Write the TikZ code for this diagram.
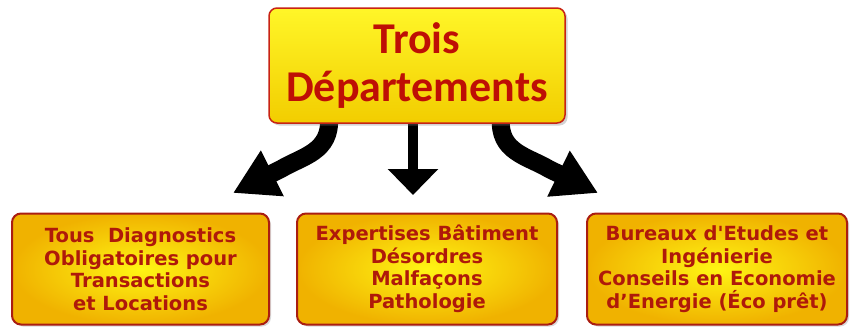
\documentclass[tikz,border=0pt]{standalone}
\usepackage{fontspec}
\newfontfamily\titlefont{Carlito}
\newfontfamily\boxfont{DejaVu Sans}
\usetikzlibrary{arrows.meta,shadows,backgrounds}
\definecolor{txtred}{RGB}{190,15,5}
\definecolor{boxtxt}{RGB}{175,25,10}
\definecolor{bordred}{RGB}{200,35,20}
\definecolor{ytop}{RGB}{255,246,40}
\definecolor{ybot}{RGB}{242,205,0}
\definecolor{yin}{RGB}{255,245,20}
\definecolor{yout}{RGB}{240,178,0}
\tikzset{
  titlebox/.style={draw=bordred, line width=1.5pt, rounded corners=8pt,
    top color=ytop, bottom color=ybot, inner sep=0pt, align=center,
    text=txtred, font=\titlefont\bfseries\fontsize{44}{46}\selectfont,
    drop shadow={opacity=0.35, shadow xshift=2.5pt, shadow yshift=-2.5pt}},
  depbox/.style={draw=bordred!85!black, line width=2pt, rounded corners=9pt,
    inner color=yin, outer color=yout, inner sep=0pt, align=center,
    text=boxtxt, font=\boxfont\bfseries\fontsize{19.5}{22.5}\selectfont,
    minimum height=111pt,
    drop shadow={opacity=0.3, shadow xshift=2pt, shadow yshift=-2pt}},
  bigarrow/.style={line width=18pt, draw=black, line cap=butt,
    -{Triangle[length=44pt,width=48pt]}},
  midarrow/.style={line width=10pt, draw=black,
    -{Triangle[length=26pt,width=49pt]}}
}
\begin{document}
\begin{tikzpicture}[x=1pt,y=-1pt]
\useasboundingbox (0,0) rectangle (852,327);
\node[titlebox, minimum width=296pt, minimum height=115pt] (top) at (417,65.5) {\raisebox{2pt}{Trois}\\Départements};
\coordinate (ls) at ([xshift=-88pt,yshift=6pt]top.south);
\coordinate (ms) at ([xshift=-4pt,yshift=6pt]top.south);
\coordinate (rs) at ([xshift=84pt,yshift=6pt]top.south);
\coordinate (lt) at (233,193);
\coordinate (mt) at (413,195);
\coordinate (rt) at (598,193);
\begin{scope}[on background layer]
\draw[bigarrow] (ls) .. controls (331,152) and (303,156) .. (281,169) -- (lt);
\draw[midarrow] (ms) -- (mt);
\draw[bigarrow] (rs) .. controls (498,152) and (527,156) .. (549,169) -- (rt);
\end{scope}
\node[depbox, minimum width=257pt] (b1) at (140.5,269) {Tous\ \ Diagnostics\\Obligatoires pour\\Transactions\\et Locations};
\node[depbox, minimum width=260pt] (b2) at (427,269) {Expertises Bâtiment\\Désordres\\Malfaçons\\Pathologie};
\node[depbox, minimum width=260pt] (b3) at (717,269) {Bureaux d'Etudes et\\Ingénierie\\Conseils en Economie\\d’Energie (Éco prêt)};
\end{tikzpicture}
\end{document}
